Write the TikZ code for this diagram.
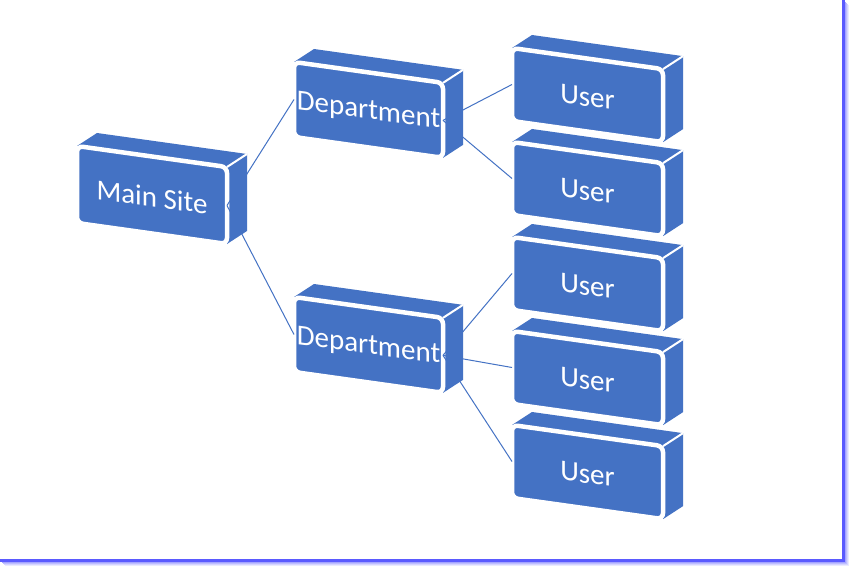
\documentclass[tikz,border=0pt]{standalone}
\usepackage{fontspec}
\setmainfont{Carlito}
\usetikzlibrary{calc}
\definecolor{boxblue}{HTML}{4472C4}
\definecolor{linkblue}{HTML}{4472C4}
\definecolor{framecol}{HTML}{5A5AFF}
\tikzset{
  face/.style={fill=boxblue},
  frontface/.style={fill=boxblue, draw=white, line width=4.5pt, rounded corners=6pt},
  edgegap/.style={draw=white, line width=2pt},
  lbl/.style={text=white, font=\fontsize{29}{34}\selectfont, inner sep=0pt},
  link/.style={draw=linkblue, line width=1pt},
  frameline/.style={draw=framecol}
}
% #1 name, #2 x, #3 y, #4 width, #5 height, #6 text
\newcommand\blockbox[6]{%
  \coordinate (#1-A) at (#2,#3);
  \coordinate (#1-B) at ({#2+#4},{#3+0.14*#4});
  \coordinate (#1-C) at ({#2+#4},{#3+0.14*#4+#5});
  \coordinate (#1-D) at (#2,{#3+#5});
  \fill[face] (#1-A) -- (#1-B) -- ($(#1-B)+(20,-13)$) -- ($(#1-A)+(20,-13)$) -- cycle;
  \fill[face] (#1-B) -- (#1-C) -- ($(#1-C)+(20,-13)$) -- ($(#1-B)+(20,-13)$) -- cycle;
  \path[edgegap] (#1-B) -- ($(#1-B)+(20,-13)$);
  \path[frontface] (#1-A) -- (#1-B) -- (#1-C) -- (#1-D) -- cycle;
  \coordinate (#1-L) at ($(#1-A)!0.5!(#1-D)$);
  \coordinate (#1-R) at ($(#1-B)!0.5!(#1-C)$);
  \node[lbl, yslant=-0.13] (#1) at ($(#1-A)!0.5!(#1-C)+(0,2)$) {#6};
}
\begin{document}
\begin{tikzpicture}[x=1pt, y=-1pt]
\useasboundingbox (0,0) rectangle (849,567);
\fill[white] (0,0) rectangle (849,567);
% frame with shadow
\foreach \i/\o in {1/0.55,2/0.4,3/0.25,4/0.12}{
  \path[frameline, opacity=\o, line width=1pt] ({844+\i},{\i+1}) -- ({844+\i},{562+\i});
  \path[frameline, opacity=\o, line width=1pt] ({\i+1},{561.5+\i}) -- ({844+\i},{561.5+\i});
}
\path[frameline, line width=3pt] (843,0) -- (843,562);
\path[frameline, line width=2.5pt] (0,560.5) -- (844.5,560.5);
% boxes
\blockbox{main}{77}{146}{150}{77}{Main Site}
\blockbox{dep1}{294}{62}{149}{75}{Department}
\blockbox{dep2}{294}{297}{149}{75}{Department}
\blockbox{u5}{512}{425}{151}{73}{User}
\blockbox{u4}{512}{331}{151}{73}{User}
\blockbox{u3}{512}{237}{151}{73}{User}
\blockbox{u2}{512}{142}{151}{73}{User}
\blockbox{u1}{512}{48}{151}{73}{User}
% connectors
\path[link] (main-R) -- (dep1-L);
\path[link] (main-R) -- (dep2-L);
\path[link] (dep1-R) -- (u1-L);
\path[link] (dep1-R) -- (u2-L);
\path[link] (dep2-R) -- (u3-L);
\path[link] (dep2-R) -- (u4-L);
\path[link] (dep2-R) -- (u5-L);
\end{tikzpicture}
\end{document}
